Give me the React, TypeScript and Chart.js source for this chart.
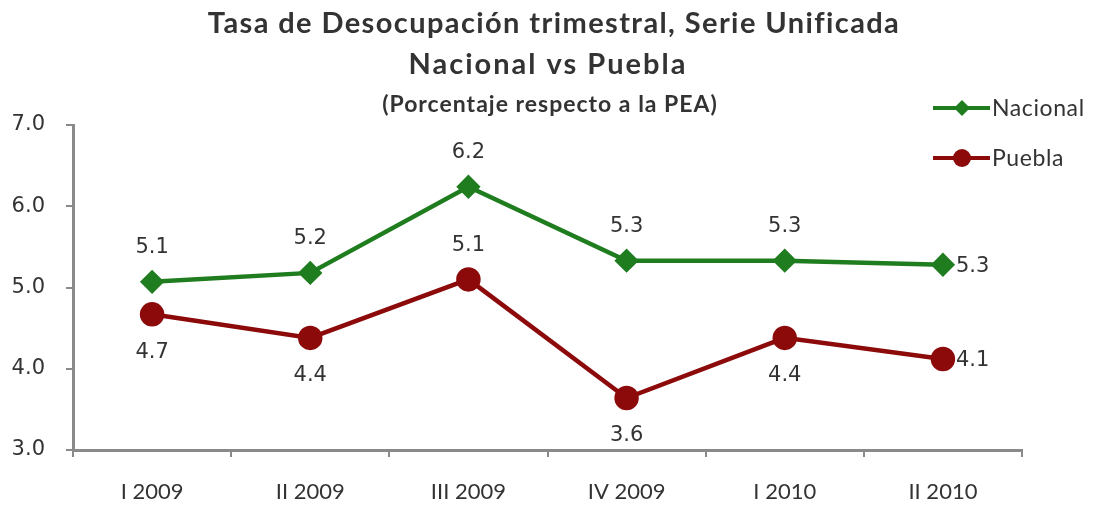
import React, { useEffect, useRef } from "react";
import { Chart, registerables } from "chart.js";

Chart.register(...registerables);

const categories = ["I 2009", "II 2009", "III 2009", "IV 2009", "I 2010", "II 2010"];
const nacional = [5.07, 5.18, 6.24, 5.33, 5.33, 5.28];
const puebla = [4.67, 4.38, 5.1, 3.64, 4.38, 4.12];
const nacionalLabelPos = ["top", "top", "top", "top", "top", "right"];
const pueblaLabelPos = ["bottom", "bottom", "top", "bottom", "bottom", "right"];
const titleLines = [
  "Tasa de Desocupación trimestral, Serie Unificada",
  "Nacional vs Puebla",
  "(Porcentaje respecto a la PEA)",
];
const yTicks = [3, 4, 5, 6, 7];

const GREEN = "#1f7d1f";
const RED = "#8c0a0a";
const TEXT = "#333333";
const AXIS = "#8a8a8a";

const labelPlugin = {
  id: "valueLabels",
  afterDatasetsDraw(chart: any) {
    const ctx = chart.ctx;
    const positions = [nacionalLabelPos, pueblaLabelPos];
    ctx.save();
    ctx.font = "21px 'DejaVu Sans'";
    ctx.fillStyle = TEXT;
    chart.data.datasets.forEach((ds: any, di: number) => {
      const meta = chart.getDatasetMeta(di);
      meta.data.forEach((pt: any, i: number) => {
        const txt = Number(ds.data[i]).toFixed(1);
        const pos = positions[di][i];
        ctx.textBaseline = "middle";
        if (pos === "right") {
          ctx.textAlign = "left";
          ctx.fillText(txt, pt.x + 13, pt.y + 2);
        } else if (pos === "top") {
          ctx.textAlign = "center";
          ctx.fillText(txt, pt.x, pt.y - 34);
        } else {
          ctx.textAlign = "center";
          ctx.fillText(txt, pt.x, pt.y + 38);
        }
      });
    });
    ctx.restore();
  },
};

const titleLegendPlugin = {
  id: "titleLegend",
  afterDraw(chart: any) {
    const ctx = chart.ctx as any;
    ctx.save();
    ctx.fillStyle = TEXT;
    ctx.textAlign = "center";
    ctx.textBaseline = "middle";
    ctx.font = "bold 29px Lato";
    ctx.letterSpacing = "1.4px";
    ctx.fillText(titleLines[0], 554, 24);
    ctx.letterSpacing = "2px";
    ctx.fillText(titleLines[1], 548, 65);
    ctx.font = "bold 23px Lato";
    ctx.letterSpacing = "1px";
    ctx.fillText(titleLines[2], 550, 105);
    ctx.letterSpacing = "0px";

    const items = [
      { ds: chart.data.datasets[0], y: 108 },
      { ds: chart.data.datasets[1], y: 158 },
    ];
    items.forEach(({ ds, y }) => {
      ctx.strokeStyle = ds.borderColor;
      ctx.lineWidth = 4;
      ctx.beginPath();
      ctx.moveTo(933, y);
      ctx.lineTo(990, y);
      ctx.stroke();
      ctx.fillStyle = ds.pointBackgroundColor;
      ctx.beginPath();
      if (ds.pointStyle === "rectRot") {
        ctx.moveTo(962, y - 8);
        ctx.lineTo(970, y);
        ctx.lineTo(962, y + 8);
        ctx.lineTo(954, y);
        ctx.closePath();
      } else {
        ctx.arc(962, y, 9, 0, Math.PI * 2);
      }
      ctx.fill();
      ctx.fillStyle = TEXT;
      ctx.textAlign = "left";
      ctx.font = "23px Lato";
      ctx.letterSpacing = "0.6px";
      ctx.fillText(ds.label, 992, y + 1);
      ctx.letterSpacing = "0px";
    });
    ctx.restore();
  },
};

export default function App() {
  const ref = useRef<HTMLCanvasElement | null>(null);
  useEffect(() => {
    if (!ref.current) return;
    const chart = new Chart(ref.current, {
      type: "line",
      data: {
        labels: categories,
        datasets: [
          {
            label: "Nacional",
            data: nacional,
            borderColor: GREEN,
            backgroundColor: GREEN,
            pointBackgroundColor: GREEN,
            pointBorderColor: GREEN,
            pointStyle: "rectRot",
            pointRadius: 9,
            borderWidth: 4.5,
            tension: 0,
          },
          {
            label: "Puebla",
            data: puebla,
            borderColor: RED,
            backgroundColor: RED,
            pointBackgroundColor: RED,
            pointBorderColor: RED,
            pointStyle: "circle",
            pointRadius: 10,
            borderWidth: 4.5,
            tension: 0,
          },
        ],
      },
      options: {
        animation: false,
        responsive: false,
        layout: { padding: { top: 125, right: 71, left: 0, bottom: 0 } },
        plugins: {
          legend: { display: false },
          title: { display: false },
          tooltip: { enabled: false },
        },
        scales: {
          x: {
            offset: true,
            afterFit: (s: any) => {
              s.height = 59;
            },
            grid: {
              offset: true,
              drawOnChartArea: false,
              color: AXIS,
              lineWidth: 2,
              tickLength: 7,
            },
            border: { color: AXIS, width: 3 },
            ticks: {
              color: TEXT,
              font: { family: "Lato", size: 22 },
              padding: 22,
              maxRotation: 0,
            },
          },
          y: {
            min: 3,
            max: 7,
            afterFit: (s: any) => {
              s.width = 73;
            },
            afterBuildTicks: (s: any) => {
              s.ticks = yTicks.map((v) => ({ value: v }));
            },
            grid: {
              drawOnChartArea: false,
              color: AXIS,
              lineWidth: 2,
              tickLength: 7,
            },
            border: { color: AXIS, width: 3 },
            ticks: {
              color: TEXT,
              font: { family: "DejaVu Sans", size: 21 },
              padding: 21,
              callback: (v: any) => Number(v).toFixed(1),
            },
          },
        },
      },
      plugins: [labelPlugin, titleLegendPlugin],
    });
    return () => chart.destroy();
  }, []);
  return (
    <div style={{ position: "fixed", left: 0, top: 0, width: 1093, height: 509, background: "#fff" }}>
      <canvas ref={ref} width={1093} height={509} style={{ width: 1093, height: 509 }} />
    </div>
  );
}
